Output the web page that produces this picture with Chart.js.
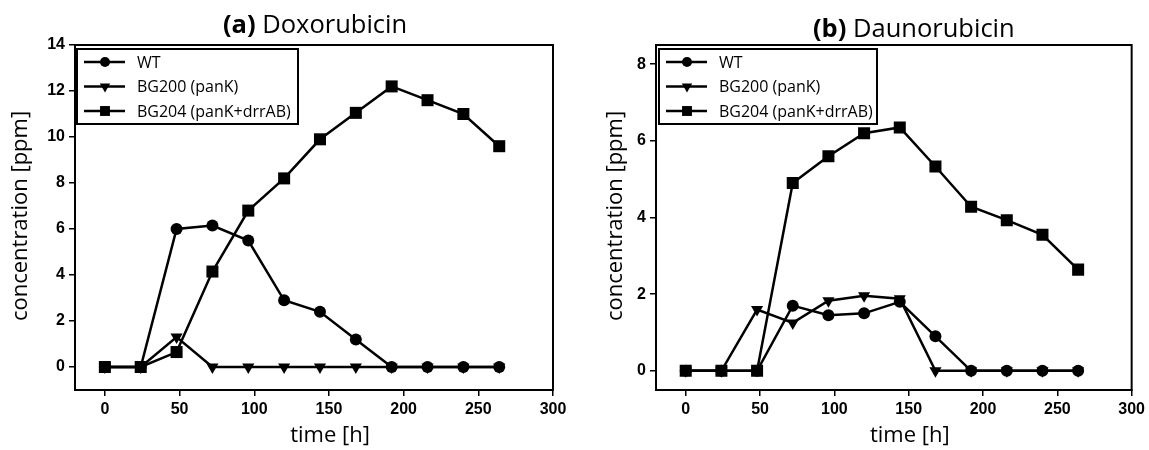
<!DOCTYPE html>
<html>
<head>
<meta charset="utf-8">
<script src="https://cdn.jsdelivr.net/npm/chart.js@4.4.1/dist/chart.umd.min.js"></script>
<style>
  html, body { margin: 0; padding: 0; background: #fff; }
  #wrap { position: relative; width: 1149px; height: 450px; overflow: hidden; }
  canvas { position: absolute; top: 0; }
</style>
</head>
<body>
<div id="wrap">
  <canvas id="chartA" width="575" height="450" style="left:0px"></canvas>
  <canvas id="chartB" width="574" height="450" style="left:575px"></canvas>
</div>
<script>
// ---------- data ----------
const hours = [0, 24, 48, 72, 96, 120, 144, 168, 192, 216, 240, 264];
const seriesLabels = ['WT', 'BG200 (panK)', 'BG204 (panK+drrAB)'];

const doxoWT    = [0, 0, 6.0, 6.15, 5.5, 2.9, 2.4, 1.2, 0, 0, 0, 0];
const doxoBG200 = [0, 0, 1.3, 0, 0, 0, 0, 0, 0, 0, 0, 0];
const doxoBG204 = [0, 0, 0.65, 4.15, 6.8, 8.2, 9.9, 11.05, 12.2, 11.6, 11.0, 9.6];

const daunoWT    = [0, 0, 0, 1.7, 1.45, 1.5, 1.8, 0.9, 0, 0, 0, 0];
const daunoBG200 = [0, 0, 1.6, 1.25, 1.83, 1.96, 1.88, 0, 0, 0, 0, 0];
const daunoBG204 = [0, 0, 0, 4.9, 5.6, 6.2, 6.35, 5.33, 4.28, 3.93, 3.55, 2.64];

const xTicks = [0, 50, 100, 150, 200, 250, 300];
const yTicksDoxo = [0, 2, 4, 6, 8, 10, 12, 14];
const yTicksDauno = [0, 2, 4, 6, 8];

const titleA = ['(a)', ' Doxorubicin'];
const titleB = ['(b)', ' Daunorubicin'];
const xTitle = 'time [h]';
const yTitle = 'concentration [ppm]';

// ---------- styles ----------
const markerStyles = [
  { pointStyle: 'circle', radius: 6, rotation: 0, legendRadius: 5 },
  { pointStyle: 'triangle', radius: 7, rotation: 180, legendRadius: 6 },
  { pointStyle: 'rect', radius: 8.5, rotation: 0, legendRadius: 7 }
];
const drawOrder = [1, 2, 0];

function pts(values) {
  return hours.map((h, i) => ({ x: h, y: values[i] }));
}

const boxPlugin = {
  id: 'boxPlugin',
  afterDatasetsDraw(chart, args, opts) {
    const ctx = chart.ctx;
    const a = chart.chartArea;
    ctx.save();
    // frame
    ctx.strokeStyle = '#000';
    ctx.lineWidth = 2;
    ctx.strokeRect(a.left, a.top, a.right - a.left, a.bottom - a.top);

    // legend
    const lx = a.left + opts.legendDx, ly = a.top + opts.legendDy;
    ctx.fillStyle = '#fff';
    ctx.fillRect(lx, ly, opts.legendW, opts.legendH);
    ctx.strokeRect(lx, ly, opts.legendW, opts.legendH);
    ctx.font = '16px "Open Sans"';
    ctx.textBaseline = 'middle';
    ctx.textAlign = 'left';
    seriesLabels.forEach((lab, i) => {
      const ry = ly + 13 + i * 24.5;
      ctx.strokeStyle = '#000';
      ctx.lineWidth = 2.5;
      ctx.beginPath();
      ctx.moveTo(lx + 7, ry);
      ctx.lineTo(lx + 48, ry);
      ctx.stroke();
      const ms = markerStyles[i];
      ctx.fillStyle = '#000';
      Chart.helpers.drawPoint(ctx, {
        pointStyle: ms.pointStyle, radius: ms.legendRadius,
        rotation: ms.rotation, borderWidth: 0
      }, lx + 28, ry);
      ctx.fillStyle = '#000';
      ctx.fillText(lab, lx + 60, ry + 1);
    });

    // main title
    ctx.textBaseline = 'alphabetic';
    ctx.fillStyle = '#000';
    const bold = 'bold ' + opts.titleSize + 'px "Open Sans"';
    const norm = opts.titleSize + 'px "Open Sans"';
    ctx.font = bold;
    const w1 = ctx.measureText(opts.title[0]).width;
    ctx.font = norm;
    const w2 = ctx.measureText(opts.title[1]).width;
    let tx = (a.left + a.right) / 2 + opts.titleDx - (w1 + w2) / 2;
    ctx.font = bold;
    ctx.fillText(opts.title[0], tx, opts.titleY);
    ctx.font = norm;
    ctx.fillText(opts.title[1], tx + w1, opts.titleY);

    // axis titles
    ctx.font = '22px "Open Sans"';
    ctx.textAlign = 'center';
    ctx.textBaseline = 'middle';
    ctx.fillText(xTitle, (a.left + a.right) / 2 + 16, 436);
    ctx.save();
    ctx.translate(opts.yTitleX, 216);
    ctx.rotate(-Math.PI / 2);
    ctx.fillText(yTitle, 0, 0);
    ctx.restore();
    ctx.restore();
  }
};

function makeChart(id, series, yMin, yMax, yTicks, opts) {
  const datasets = series.map((vals, i) => ({
    label: seriesLabels[i],
    data: pts(vals),
    borderColor: '#000',
    backgroundColor: '#000',
    borderWidth: 2.5,
    tension: 0,
    pointStyle: markerStyles[i].pointStyle,
    pointRadius: markerStyles[i].radius,
    pointRotation: markerStyles[i].rotation,
    pointBackgroundColor: '#000',
    pointBorderWidth: 0,
    order: drawOrder[i]
  }));
  const tickFont = { family: '"Liberation Sans", Arial, sans-serif', size: 16, weight: 'bold' };
  return new Chart(document.getElementById(id), {
    type: 'line',
    data: { datasets },
    options: {
      responsive: false,
      animation: false,
      devicePixelRatio: 1,
      layout: { padding: { left: 0, right: opts.padRight, top: 45, bottom: 0 } },
      plugins: {
        legend: { display: false },
        title: { display: false },
        tooltip: { enabled: false },
        boxPlugin: opts
      },
      scales: {
        x: {
          type: 'linear',
          min: -20, max: 300,
          afterBuildTicks: s => { s.ticks = xTicks.map(v => ({ value: v })); },
          afterFit: s => { s.height = 60; },
          grid: { drawOnChartArea: false, drawTicks: true, tickLength: 6, color: '#000', lineWidth: 1.5 },
          border: { display: true, color: '#000', width: 2 },
          ticks: { font: tickFont, color: '#000', padding: 4, maxRotation: 0, autoSkip: false }
        },
        y: {
          type: 'linear',
          min: yMin, max: yMax,
          afterBuildTicks: s => { s.ticks = yTicks.map(v => ({ value: v })); },
          afterFit: s => { s.width = opts.yWidth; },
          grid: { drawOnChartArea: false, drawTicks: true, tickLength: 6, color: '#000', lineWidth: 1.5 },
          border: { display: true, color: '#000', width: 2 },
          ticks: { font: tickFont, color: '#000', padding: 4, autoSkip: false }
        }
      }
    },
    plugins: [boxPlugin]
  });
}

makeChart('chartA', [doxoWT, doxoBG200, doxoBG204], -1, 14, yTicksDoxo, {
  padRight: 22, yWidth: 75, title: titleA, titleSize: 25.5, titleY: 33, titleDx: 1,
  yTitleX: 21, legendDx: 2, legendDy: 4, legendW: 221, legendH: 75
});
makeChart('chartB', [daunoWT, daunoBG200, daunoBG204], -0.5, 8.5, yTicksDauno, {
  padRight: 16, yWidth: 81, title: titleB, titleSize: 25.5, titleY: 37, titleDx: 20,
  yTitleX: 41, legendDx: 3, legendDy: 4, legendW: 218, legendH: 75
});
</script>
</body>
</html>
